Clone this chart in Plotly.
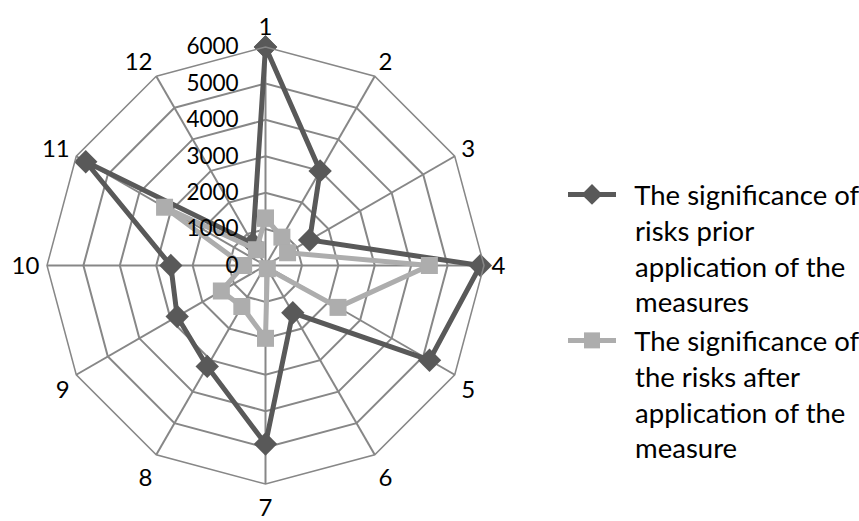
import plotly.graph_objects as go

categories = [str(i) for i in range(1, 13)]
before_measures = [6000, 3000, 1400, 5900, 5200, 1500, 4900, 3200, 2800, 2600, 5700, 700]
after_measures = [1300, 900, 700, 4500, 2300, 100, 2000, 1300, 1400, 600, 3200, 500]
radial_ticks = [0, 1000, 2000, 3000, 4000, 5000, 6000]

NB = "\u00a0\u00a0"  # small indent between legend symbol and text
before_lines = ["The significance of", "risks prior", "application of the", "measures"]
after_lines = ["The significance of", "the risks after", "application of the", "measure"]
name_before = "<br>".join(NB + s for s in before_lines)
name_after = "<br>".join(NB + s for s in after_lines)

FONT = "Lato"
GRID = "#878787"
PAD = "\u00a0" * 4  # keeps radial labels clear of the vertical spoke

fig = go.Figure()
fig.add_trace(go.Scatterpolar(
    r=before_measures + before_measures[:1],
    theta=categories + categories[:1],
    mode="lines+markers",
    name=name_before,
    line=dict(color="#595959", width=5),
    marker=dict(symbol="diamond", size=18, color="#595959"),
))
fig.add_trace(go.Scatterpolar(
    r=after_measures + after_measures[:1],
    theta=categories + categories[:1],
    mode="lines+markers",
    name=name_after,
    line=dict(color="#ADADAD", width=5),
    marker=dict(symbol="square", size=17, color="#ADADAD"),
))

W, H = 859, 521
cx, cy, rad = 265.5, 265.5, 218.5

fig.update_layout(
    width=W, height=H,
    margin=dict(l=0, r=0, t=0, b=0, autoexpand=False),
    paper_bgcolor="white",
    plot_bgcolor="white",
    font=dict(family=FONT, size=22, color="#000000"),
    polar=dict(
        domain=dict(x=[(cx - rad) / W, (cx + rad) / W],
                    y=[(H - cy - rad) / H, (H - cy + rad) / H]),
        gridshape="linear",
        bgcolor="white",
        angularaxis=dict(
            direction="clockwise",
            rotation=90,
            categoryorder="array",
            categoryarray=categories,
            showline=True,
            linecolor=GRID,
            linewidth=1.5,
            gridcolor=GRID,
            gridwidth=1.5,
            ticks="outside",
            ticklen=2,
            tickcolor="rgba(0,0,0,0)",
            tickfont=dict(family=FONT, size=24),
        ),
        radialaxis=dict(
            range=[0, 6000],
            tickvals=radial_ticks,
            ticktext=[str(v) + PAD for v in radial_ticks],
            angle=90,
            tickangle=90,
            side="counterclockwise",
            showline=False,
            gridcolor=GRID,
            gridwidth=1.5,
            ticks="",
            tickfont=dict(family=FONT, size=22.5),
        ),
    ),
    legend=dict(
        x=563 / W, y=1 - 170 / H,
        xanchor="left", yanchor="top",
        font=dict(family=FONT, size=27.5),
        tracegroupgap=0,
        itemwidth=48,
        valign="top",
        bgcolor="rgba(0,0,0,0)",
    ),
)

fig.write_html("out.html")
